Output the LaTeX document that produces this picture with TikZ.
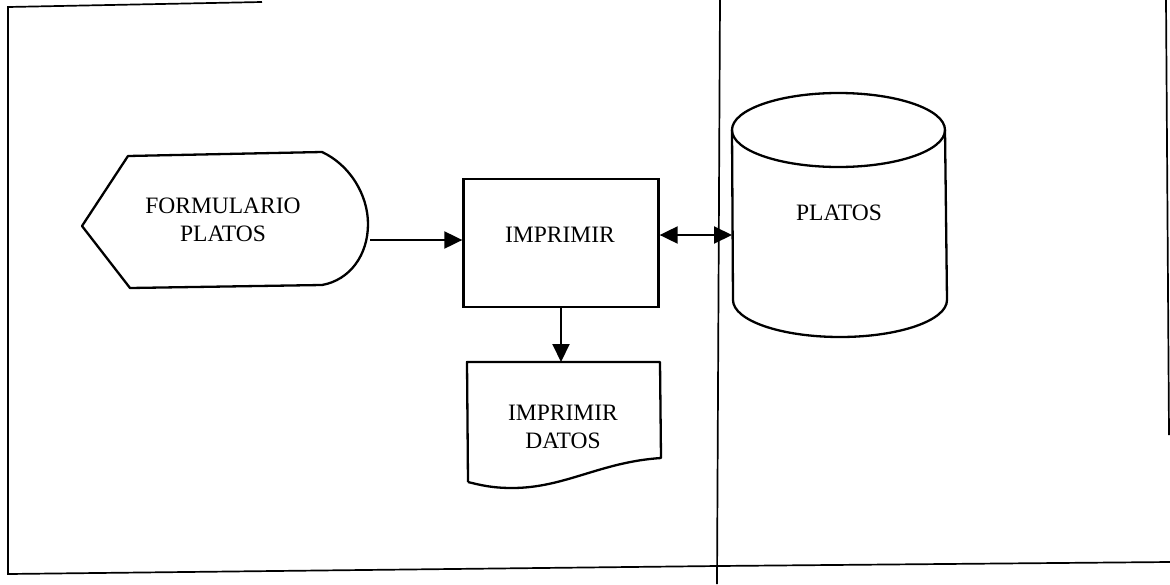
\documentclass[tikz,border=0pt]{standalone}
\usepackage{fontspec}
\setmainfont{Liberation Serif}
\usetikzlibrary{arrows.meta}
\begin{document}
\begin{tikzpicture}[x=1pt,y=-1pt,
  shapeline/.style={line width=2.3pt, line join=round},
  frameline/.style={line width=1.7pt},
  lbl/.style={font=\fontsize{23.5}{28}\selectfont, align=center, inner sep=0pt},
  procbox/.style={draw, line width=2.3pt, minimum width=195pt, minimum height=128pt, inner sep=0pt},
  arr/.style={line width=2pt, -{Triangle[length=18pt,width=17pt]}},
  arrboth/.style={line width=2pt, {Triangle[length=18pt,width=17pt]}-{Triangle[length=18pt,width=17pt]}}]
\useasboundingbox (0,0) rectangle (1170,584);
\fill[white] (0,0) rectangle (1170,584);

% frame
\draw[frameline] (262,2) -- (8,7) -- (8,574) -- (718,566) -- (1170,562);
\draw[frameline] (720,0) -- (717,584);
\draw[frameline] (1166,0) -- (1169,435);

% display shape (FORMULARIO PLATOS)
\draw[shapeline] (82,226) -- (128,156) -- (322,152)
  .. controls (350,165) and (368,195) .. (368,224)
  .. controls (368,255) and (350,280) .. (322,285) -- (130,288) -- cycle;
\node[lbl] (form) at (223,220) {FORMULARIO\\PLATOS};
\coordinate (formR) at (370,240);

% process IMPRIMIR
\node[procbox] (imp) at (561,243) {};
\node[lbl] (impt) at (560,235) {IMPRIMIR};

% document
\draw[shapeline] (468,482) -- (467,362) -- (660,362) -- (661,458)
  .. controls (600,462) and (565,488) .. (512,488)
  .. controls (492,488) and (480,485) .. (468,482);
\coordinate (docT) at (561,362);
\node[lbl] (doc) at (563,427) {IMPRIMIR\\DATOS};

% database cylinder
\draw[shapeline] (838.5,130) ellipse [x radius=106.5, y radius=37];
\draw[shapeline] (732,130) -- (733,300) arc[start angle=180, end angle=0, x radius=107, y radius=37] -- (945,130);
\node[lbl] (db) at (839,213) {PLATOS};
\coordinate (dbL) at (732,235);

% connectors
\draw[arr] (formR) -- (imp.west |- formR);
\draw[arrboth] (imp.east |- dbL) -- (dbL);
\draw[arr] (imp.south) -- (imp.south |- docT);
\end{tikzpicture}
\end{document}
